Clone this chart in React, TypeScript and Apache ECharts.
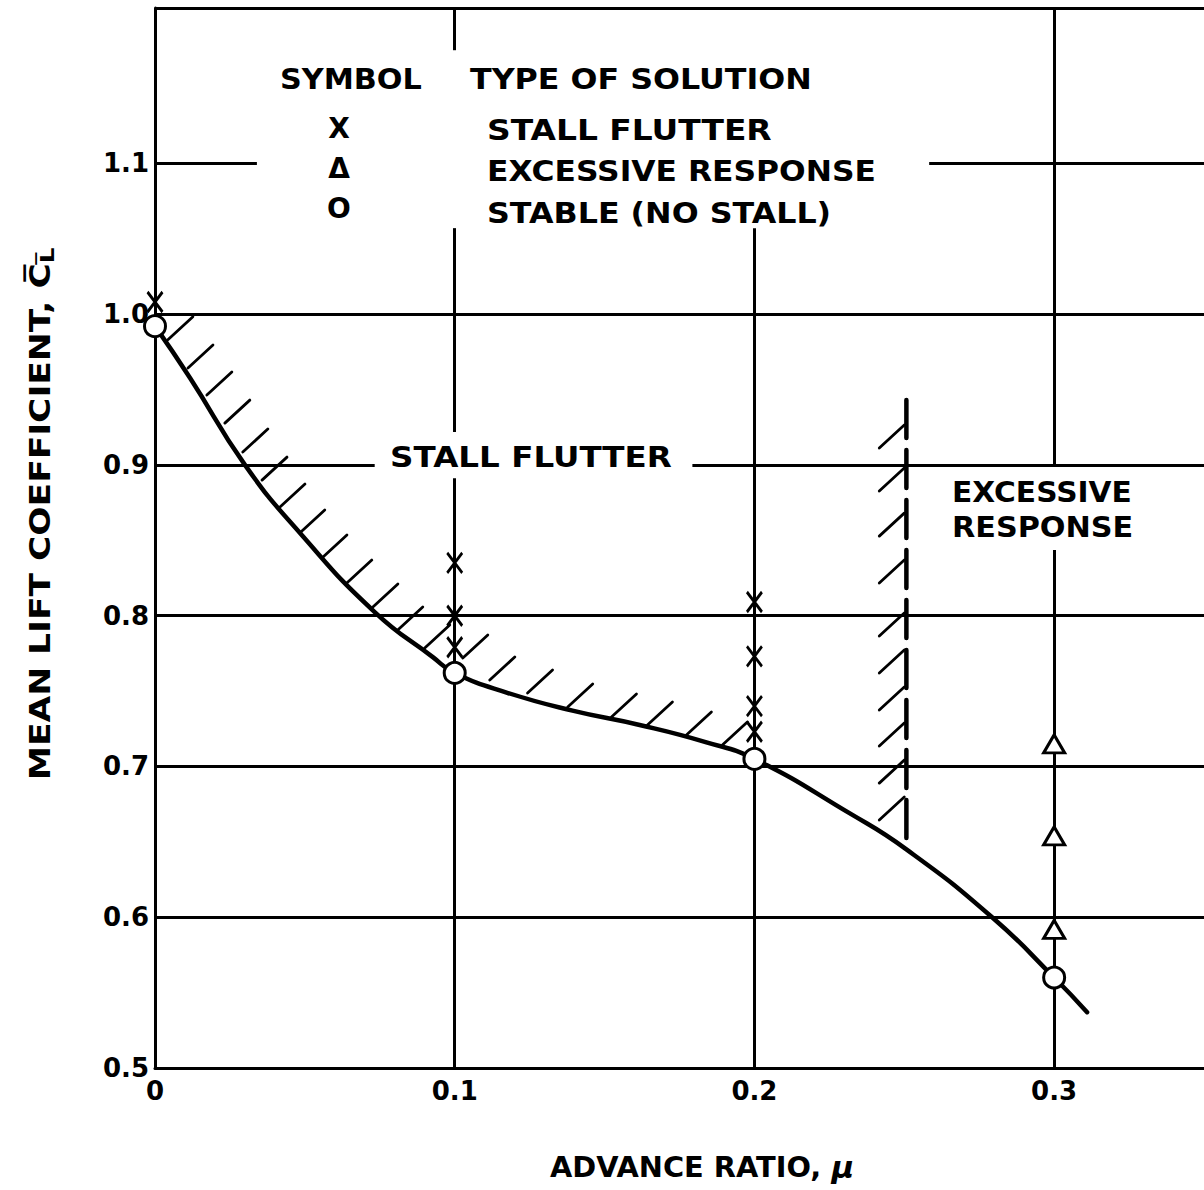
import React, { useEffect, useRef } from "react";
import * as echarts from "echarts";

// ---------- axis ranges / ticks ----------
const X_MIN = 0;
const X_MAX = 0.35;
const Y_MIN = 0.5;
const Y_MAX = 1.203;
const xTickLabels = ["0", "0.1", "0.2", "0.3"];
const yTickLabels = ["0.5", "0.6", "0.7", "0.8", "0.9", "1.0", "1.1"];

// ---------- stability boundary curve (mu, CL) ----------
const boundaryCurve: [number, number][] = [
  [0, 0.992],
  [0.0117, 0.9576],
  [0.03, 0.9],
  [0.0483, 0.855],
  [0.0733, 0.8024],
  [0.0927, 0.7725],
  [0.1, 0.762],
  [0.1173, 0.749],
  [0.1393, 0.737],
  [0.1617, 0.7275],
  [0.184, 0.716],
  [0.2, 0.705],
  [0.2317, 0.669],
  [0.2507, 0.645],
  [0.2793, 0.6],
  [0.3, 0.56],
  [0.311, 0.537],
];

// ---------- symbols ----------
const stallFlutterPts: [number, number][] = [
  [0, 1.008],
  [0.1, 0.835],
  [0.1, 0.8],
  [0.1, 0.779],
  [0.2, 0.809],
  [0.2, 0.773],
  [0.2, 0.74],
  [0.2, 0.723],
];
const excessiveResponsePts: [number, number][] = [
  [0.3, 0.715],
  [0.3, 0.654],
  [0.3, 0.592],
];
const stablePts: [number, number][] = [
  [0, 0.992],
  [0.1, 0.762],
  [0.2, 0.705],
  [0.3, 0.56],
];

// ---------- hatching ----------
const stallHatchBase: [number, number][] = [
  [0.0043, 0.983],
  [0.011, 0.9642],
  [0.0173, 0.9463],
  [0.0233, 0.9277],
  [0.0293, 0.9085],
  [0.0357, 0.8899],
  [0.0417, 0.872],
  [0.0483, 0.8548],
  [0.0557, 0.8382],
  [0.064, 0.8216],
  [0.0727, 0.8057],
  [0.081, 0.7905],
  [0.09, 0.7785],
  [0.1027, 0.7719],
  [0.1117, 0.7573],
  [0.1243, 0.7487],
  [0.1377, 0.7394],
  [0.1523, 0.7328],
  [0.1643, 0.7275],
  [0.1773, 0.7209],
  [0.1893, 0.7142],
];
const responseBoundary: [number, number][] = [
  [0.2507, 0.943],
  [0.2507, 0.646],
];
const responseHatchTop: [number, number][] = [
  [0.25, 0.9264],
  [0.25, 0.8979],
  [0.25, 0.868],
  [0.25, 0.8369],
  [0.25, 0.8017],
  [0.25, 0.7772],
  [0.25, 0.7527],
  [0.25, 0.7288],
  [0.25, 0.7042],
  [0.25, 0.6797],
];

// ---------- grid line segments (with breaks around lettering) ----------
// [y, x1, x2]
const hGridSegments: [number, number, number][] = [
  [1.203, 0, 0.35],
  [1.1, 0, 0.034],
  [1.1, 0.2583, 0.35],
  [1.0, 0, 0.35],
  [0.9, 0, 0.0733],
  [0.9, 0.1793, 0.35],
  [0.8, 0, 0.35],
  [0.7, 0, 0.35],
  [0.6, 0, 0.35],
];
// [x, y1, y2]
const vGridSegments: [number, number, number][] = [
  [0.1, 1.175, 1.203],
  [0.1, 0.9218, 1.057],
  [0.1, 0.5, 0.8912],
  [0.2, 0.5, 1.057],
  [0.3, 0.9, 1.203],
  [0.3, 0.5, 0.8435],
];

const FONT = "DejaVu Sans";

function hatchSeries(name: string, data: [number, number][], dx: number, dy: number) {
  return {
    name,
    type: "custom",
    z: 2,
    silent: true,
    data,
    encode: { x: 0, y: 1 },
    renderItem: (_p: any, api: any) => {
      const pt = api.coord([api.value(0), api.value(1)]);
      return {
        type: "line",
        shape: { x1: pt[0], y1: pt[1], x2: pt[0] + dx, y2: pt[1] + dy },
        style: { stroke: "#000", lineWidth: 2.8, lineCap: "round" },
      };
    },
  };
}

function txt(text: string, x: number, y: number, sx = 1, align = "left", size = 28, extra: any = {}) {
  return {
    type: "text",
    x,
    y,
    scaleX: sx,
    z: 10,
    style: {
      text,
      fill: "#000",
      fontFamily: FONT,
      fontWeight: "bold",
      fontSize: size,
      align,
      verticalAlign: "middle",
      ...extra,
    },
  };
}

export default function App() {
  const ref = useRef<HTMLDivElement>(null);

  useEffect(() => {
    if (!ref.current) return;
    const chart = echarts.init(ref.current, null, { renderer: "svg" });

    const gridLines = [
      ...hGridSegments.map(([y, x1, x2]) => ({ coords: [[x1, y], [x2, y]] })),
      ...vGridSegments.map(([x, y1, y2]) => ({ coords: [[x, y1], [x, y2]] })),
    ];

    const option: any = {
      animation: false,
      backgroundColor: "#fff",
      grid: { left: 155, top: 8, width: 1050, height: 1060, containLabel: false },
      xAxis: {
        type: "value",
        min: X_MIN,
        max: X_MAX,
        interval: 0.1,
        axisLine: { show: true, onZero: false, lineStyle: { color: "#000", width: 3 } },
        axisTick: { show: false },
        splitLine: { show: false },
        axisLabel: {
          color: "#000",
          fontFamily: FONT,
          fontWeight: "bold",
          fontSize: 26,
          margin: 10,
          showMaxLabel: false,
          formatter: (v: number) => {
            const i = Math.round(v / 0.1);
            return Math.abs(v - i * 0.1) < 1e-6 && i < xTickLabels.length ? xTickLabels[i] : "";
          },
        },
      },
      yAxis: {
        type: "value",
        min: Y_MIN,
        max: Y_MAX,
        interval: 0.1,
        axisLine: { show: true, onZero: false, lineStyle: { color: "#000", width: 3 } },
        axisTick: { show: false },
        splitLine: { show: false },
        axisLabel: {
          color: "#000",
          fontFamily: FONT,
          fontWeight: "bold",
          fontSize: 26,
          margin: 6,
          showMaxLabel: false,
          formatter: (v: number) => {
            const i = Math.round((v - 0.5) / 0.1);
            return Math.abs(v - 0.5 - i * 0.1) < 1e-6 && i < yTickLabels.length ? yTickLabels[i] : "";
          },
        },
      },
      graphic: [
        txt("SYMBOL", 280, 79, 1.08),
        txt("TYPE OF SOLUTION", 470, 79, 1.133),
        txt("X", 339, 128, 1, "center"),
        txt("STALL FLUTTER", 487, 130, 1.175),
        txt("Δ", 339, 168, 1, "center"),
        txt("EXCESSIVE RESPONSE", 487, 171, 1.12),
        txt("O", 339, 208, 1, "center"),
        txt("STABLE (NO STALL)", 487, 213, 1.133),
        txt("STALL FLUTTER", 390, 457, 1.163),
        txt("EXCESSIVE", 952, 492, 1.06),
        txt("RESPONSE", 952, 527, 1.08),
        txt("ADVANCE RATIO, {m|μ}", 702, 1168, 1.03, "center", 28, {
          rich: { m: { fontFamily: FONT, fontSize: 30, fontStyle: "italic", fontWeight: "bold", fill: "#000" } },
        }),
        {
          type: "text",
          x: 40,
          y: 514,
          rotation: Math.PI / 2,
          scaleX: 1.232,
          z: 10,
          style: {
            text: "MEAN LIFT COEFFICIENT, {c|C\u0305}{s|L\u0305}",
            fill: "#000",
            fontFamily: FONT,
            fontWeight: "bold",
            fontSize: 28,
            align: "center",
            verticalAlign: "middle",
            rich: {
              c: { fontFamily: FONT, fontWeight: "bold", fontSize: 28, fill: "#000" },
              s: { fontFamily: FONT, fontWeight: "bold", fontSize: 20, fill: "#000", padding: [14, 0, 0, 0] },
            },
          },
        },
      ],
      series: [
        {
          name: "grid",
          type: "lines",
          coordinateSystem: "cartesian2d",
          clip: false,
          silent: true,
          z: 1,
          lineStyle: { color: "#000", width: 3, opacity: 1, curveness: 0 },
          data: gridLines,
        },
        {
          name: "boundary",
          type: "line",
          data: boundaryCurve,
          smooth: 0.5,
          showSymbol: false,
          z: 3,
          silent: true,
          lineStyle: { color: "#000", width: 4.5, cap: "round" },
        },
        hatchSeries("stall hatch", stallHatchBase, 25, -23),
        {
          name: "response boundary",
          type: "line",
          data: responseBoundary,
          showSymbol: false,
          z: 3,
          silent: true,
          lineStyle: { color: "#000", width: 4.5, type: [38, 12], cap: "round" },
        },
        hatchSeries("response hatch", responseHatchTop, -25, 23),
        {
          name: "STALL FLUTTER",
          type: "scatter",
          data: stallFlutterPts,
          z: 5,
          symbol: "path://M0,0L14,20M14,0L0,20",
          symbolSize: [15, 20],
          itemStyle: { color: "#000", borderColor: "#000", borderWidth: 3, opacity: 1 },
        },
        {
          name: "EXCESSIVE RESPONSE",
          type: "scatter",
          data: excessiveResponsePts,
          z: 5,
          symbol: "triangle",
          symbolSize: [21, 18],
          itemStyle: { color: "#fff", borderColor: "#000", borderWidth: 3, opacity: 1 },
        },
        {
          name: "STABLE (NO STALL)",
          type: "scatter",
          data: stablePts,
          z: 6,
          symbol: "circle",
          symbolSize: 21,
          itemStyle: { color: "#fff", borderColor: "#000", borderWidth: 3, opacity: 1 },
        },
      ],
    };

    chart.setOption(option);
    return () => chart.dispose();
  }, []);

  return (
    <div
      ref={ref}
      style={{ position: "absolute", left: 0, top: 0, width: 1204, height: 1190, background: "#fff" }}
    />
  );
}
